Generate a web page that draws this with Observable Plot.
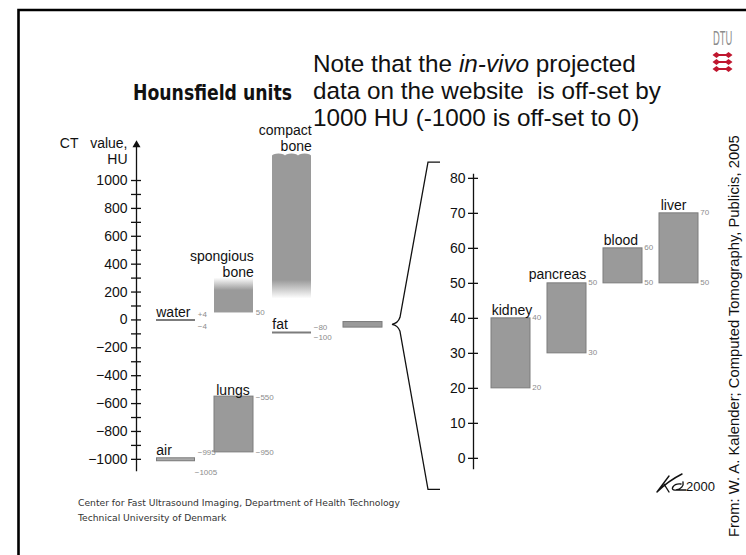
<!DOCTYPE html>
<html><head><meta charset="utf-8">
<script src="https://cdn.jsdelivr.net/npm/d3@7"></script>
<script src="https://cdn.jsdelivr.net/npm/@observablehq/plot@0.6"></script>
<style>
html,body{margin:0;padding:0;background:#fff;}
#slide{position:relative;width:746px;height:555px;overflow:hidden;background:#fff;font-family:"Liberation Sans",Arial,sans-serif;}
#slide > svg{position:absolute;left:0;top:0;}
</style></head><body><div id="slide"></div>
<script>
// ---------- data ----------
const leftColumns = ["air · water", "lungs · spongious bone", "fat · compact bone", "soft tissue"];
const tissues = ["air", "water", "lungs", "spongious bone", "fat", "compact bone"];
const tissueColumns = ["air · water", "air · water", "lungs · spongious bone", "lungs · spongious bone", "fat · compact bone", "fat · compact bone"];
const tissueLow  = [-1005, -4, -950, 50, -100, 150];
const tissueHigh = [-995, 4, -550, 300, -80, 1175];
const softTissueRange = [-55, -15];
const leftTicks = [-1000, -800, -600, -400, -200, 0, 200, 400, 600, 800, 1000];
const leftMinorTicks = [-1000, -900, -800, -700, -600, -500, -400, -300, -200, -100, 0, 100, 200, 300, 400, 500, 600, 700, 800, 900, 1000];
const leftAxisTitle = "CT\u00a0\u00a0\u00a0value,\nHU";

const organs = ["kidney", "pancreas", "blood", "liver"];
const organLow  = [20, 30, 50, 50];
const organHigh = [40, 50, 60, 70];
const rightTicks = [0, 10, 20, 30, 40, 50, 60, 70, 80];
const braceSpan = [-9, 84.5];

const titleText = "Hounsfield units";
const noteLines = ["Note that the ", "in-vivo", " projected", "data on the website  is off-set by", "1000 HU (-1000 is off-set to 0)"];
const footerLines = ["Center for Fast Ultrasound Imaging, Department of Health Technology", "Technical University of Denmark"];
const creditText = "From: W. A. Kalender; Computed Tomography, Publicis, 2005";
const signatureYear = "2000";

// ---------- tables ----------
const rowsL = tissues.map((t, i) => ({tissue: t, column: tissueColumns[i], low: tissueLow[i], high: tissueHigh[i]}));
const get = t => rowsL.filter(d => d.tissue === t);
const soft = [{column: "soft tissue", low: softTissueRange[0], high: softTissueRange[1]}];
const rowsR = organs.map((o, i) => ({organ: o, low: organLow[i], high: organHigh[i]}));
const getR = t => rowsR.filter(d => d.organ === t);

const fmt = d3.format("d"), fmtS = d3.format("+d");
const BAR = "#9a9a9a", EDGE = "#7c7c7c", VAL = "#8c8c8c", INK = "#111";
const lab = {fontSize: 14, fill: INK, lineAnchor: "bottom", lineHeight: 1.15};
const val = {fontSize: 8, fill: VAL, textAnchor: "start", lineAnchor: "middle"};

// ---------- left panel ----------
const LW = 420, hl = 19.75;
const left = Plot.plot({
  width: LW, height: 555,
  marginLeft: 136, marginRight: 0, marginTop: 146, marginBottom: 85,
  style: {background: "none", overflow: "visible", fontFamily: "'Liberation Sans', Arial, sans-serif"},
  x: {type: "band", domain: leftColumns, range: [155, 370], paddingInner: 0.325, paddingOuter: 0, axis: null},
  y: {domain: [-1080, 1244]},
  marks: [
    Plot.frame({anchor: "left", stroke: INK, strokeWidth: 1.3}),
    Plot.dot([0], {frameAnchor: "top-left", symbol: "triangle", r: 3, fill: INK, dy: -1.5}),
    Plot.tickY(leftMinorTicks, {y: d => d, dx: -5, insetRight: LW - 136 - 10, stroke: INK, strokeWidth: 1.3}),
    Plot.axisY(leftTicks, {tickSize: 0, tickPadding: 9, fontSize: 14, label: null, color: INK, tickFormat: fmt}),
    Plot.text([leftAxisTitle], {frameAnchor: "top-left", textAnchor: "end", lineAnchor: "top", dx: -9, dy: -9, fontSize: 14, lineHeight: 1.1, fill: INK}),
    // bars
    Plot.barY(get("lungs"), {x: "column", y1: "low", y2: "high", fill: BAR, stroke: EDGE}),
    Plot.barY(get("spongious bone"), {x: "column", y1: "low", y2: "high", fill: "url(#gSpong)"}),
    Plot.barY(get("compact bone"), {x: "column", y1: "low", y2: "high", fill: "url(#gCompact)"}),
    Plot.barY(soft, {x: "column", y1: "low", y2: "high", dx: 13, fill: BAR, stroke: EDGE}),
    Plot.tickY(get("air"), {x: "column", y: d => (d.low + d.high) / 2, stroke: EDGE, strokeWidth: 4}),
    Plot.tickY(get("air"), {x: "column", y: d => (d.low + d.high) / 2, stroke: "#aaa", strokeWidth: 2, inset: 1}),
    Plot.tickY(get("water"), {x: "column", y: d => (d.low + d.high) / 2, stroke: EDGE, strokeWidth: 2}),
    Plot.tickY(get("fat"), {x: "column", y: d => (d.low + d.high) / 2, stroke: EDGE, strokeWidth: 2}),
    // tissue names
    Plot.text(get("water"), {x: "column", y: "high", text: "tissue", ...lab, textAnchor: "start", dx: -hl, dy: -2}),
    Plot.text(get("air"), {x: "column", y: "high", text: "tissue", ...lab, textAnchor: "start", dx: -hl, dy: -4}),
    Plot.text(get("fat"), {x: "column", y: "high", text: "tissue", ...lab, textAnchor: "start", dx: -hl, dy: -2}),
    Plot.text(get("lungs"), {x: "column", y: "high", text: "tissue", ...lab, textAnchor: "start", dx: -hl + 2, dy: -2}),
    Plot.text(get("spongious bone"), {x: "column", y: "high", text: d => d.tissue.replace(" ", "\n"), ...lab, textAnchor: "end", dx: hl, dy: -1}),
    Plot.text(get("compact bone"), {x: "column", y: "high", text: d => d.tissue.replace(" ", "\n"), ...lab, textAnchor: "end", dx: hl, dy: -5}),
    // value labels
    Plot.text(get("water"), {x: "column", y: "high", text: d => fmtS(d.high), ...val, dx: hl + 2, dy: -5}),
    Plot.text(get("water"), {x: "column", y: "low", text: d => fmtS(d.low), ...val, dx: hl + 2, dy: 6}),
    Plot.text(get("spongious bone"), {x: "column", y: "low", text: d => fmt(d.low), ...val, dx: hl + 2, dy: -1}),
    Plot.text(get("fat"), {x: "column", y: "high", text: d => fmt(d.high), ...val, dx: hl + 2, dy: -4}),
    Plot.text(get("fat"), {x: "column", y: "low", text: d => fmt(d.low), ...val, dx: hl + 2, dy: 4}),
    Plot.text(get("lungs"), {x: "column", y: "high", text: d => fmt(d.high), ...val, dx: hl + 2, dy: 1}),
    Plot.text(get("lungs"), {x: "column", y: "low", text: d => fmt(d.low), ...val, dx: hl + 2}),
    Plot.text(get("air"), {x: "column", y: "high", text: d => fmt(d.high), ...val, dx: hl + 2, dy: -6}),
    Plot.text(get("air"), {x: "column", y: "low", text: d => fmt(d.low), ...val, dx: hl - 1, dy: 12})
  ]
});

// ---------- right panel ----------
const RW = 746, hr = 19.25;
const right = Plot.plot({
  width: RW, height: 555,
  marginLeft: 473, marginRight: 48, marginTop: 174, marginBottom: 87,
  style: {background: "none", overflow: "visible", fontFamily: "'Liberation Sans', Arial, sans-serif"},
  x: {type: "band", domain: organs, range: [491, 697.5], paddingInner: 0.3125, paddingOuter: 0, axis: null},
  y: {domain: [-2.9, 81.1]},
  marks: [
    Plot.frame({anchor: "left", stroke: INK, strokeWidth: 1.3}),
    Plot.tickY(rightTicks, {y: d => d, dx: -5, insetRight: RW - 473 - 48 - 10, stroke: INK, strokeWidth: 1.3}),
    Plot.axisY(rightTicks, {tickSize: 0, tickPadding: 8, fontSize: 14, label: null, color: INK, tickFormat: fmt}),
    Plot.barY(rowsR, {x: "organ", y1: "low", y2: "high", fill: BAR, stroke: EDGE}),
    Plot.text(getR("kidney"), {x: "organ", y: "high", text: "organ", ...lab, textAnchor: "start", dx: -hr, dy: -3}),
    Plot.text(getR("pancreas"), {x: "organ", y: "high", text: "organ", ...lab, textAnchor: "end", dx: hr, dy: -4}),
    Plot.text(getR("blood"), {x: "organ", y: "high", text: "organ", ...lab, textAnchor: "start", dx: -hr, dy: -3}),
    Plot.text(getR("liver"), {x: "organ", y: "high", text: "organ", ...lab, textAnchor: "start", dx: -hr + 1, dy: -3}),
    Plot.text(rowsR, {x: "organ", y: "high", text: d => fmt(d.high), ...val, dx: hr + 2, dy: -1}),
    Plot.text(rowsR, {x: "organ", y: "low", text: d => fmt(d.low), ...val, dx: hr + 2, dy: -1})
  ]
});

const slide = document.getElementById("slide");
slide.appendChild(left);
slide.appendChild(right);

// gradients for the bone bars
d3.select(left).insert("defs", ":first-child").html(
  `<linearGradient id="gCompact" x1="0" y1="0" x2="0" y2="1">
     <stop offset="0" stop-color="${BAR}"/><stop offset="0.87" stop-color="${BAR}"/><stop offset="1" stop-color="#fff"/>
   </linearGradient>
   <linearGradient id="gSpong" x1="0" y1="0" x2="0" y2="1">
     <stop offset="0" stop-color="#fff"/><stop offset="0.36" stop-color="${BAR}"/><stop offset="1" stop-color="${BAR}"/>
   </linearGradient>`);

const xL = left.scale("x"), yL = left.scale("y"), yR = right.scale("y");
// wavy top of compact bone (scale-derived)
{
  const cb = get("compact bone")[0];
  const x0 = xL.apply(cb.column), bw = xL.bandwidth, yt = yL.apply(cb.high);
  const g = d3.select(left).append("g");
  for (let k = 0; k < 3; k++) {
    g.append("ellipse").attr("cx", x0 + bw * (2 * k + 1) / 6).attr("cy", yt)
      .attr("rx", bw / 6).attr("ry", 2).attr("fill", BAR);
  }
}
// brace linking the soft tissue bar with the enlarged scale
{
  const tipX = xL.apply("soft tissue") + xL.bandwidth + 13 + 10;
  const tipY = yL.apply((softTissueRange[0] + softTissueRange[1]) / 2);
  const axisX = 473;
  const yt = yR.apply(braceSpan[1]), yb = yR.apply(braceSpan[0]);
  const p = d3.path();
  p.moveTo(axisX - 33, yt); p.lineTo(axisX - 45, yt);
  p.lineTo(tipX + 8, tipY - 7);
  p.quadraticCurveTo(tipX + 6, tipY - 1, tipX, tipY);
  p.quadraticCurveTo(tipX + 6, tipY + 1, tipX + 8, tipY + 7);
  p.lineTo(axisX - 45, yb); p.lineTo(axisX - 33, yb);
  d3.select(right).append("path").attr("d", p.toString()).attr("fill", "none")
    .attr("stroke", INK).attr("stroke-width", 1.3);
}

// ---------- slide decorations (text etc.) ----------
const ov = d3.select(slide).append("svg").attr("width", 746).attr("height", 555)
  .style("font-family", "'Liberation Sans', Arial, sans-serif");
ov.append("path").attr("d", "M18.5,555 V10 H746").attr("fill", "none").attr("stroke", "#000").attr("stroke-width", 2.6);

const title = ov.append("text").attr("font-family", "'DejaVu Sans', Verdana, sans-serif")
  .attr("font-weight", "bold").attr("font-size", 21).attr("fill", INK).text(titleText);
{
  const w = title.node().getComputedTextLength() || 200;
  title.attr("transform", `translate(133,100) scale(${159 / w},1)`);
}

const note = ov.append("text").attr("font-size", 24.3).attr("fill", INK).style("white-space", "pre");
const l1 = note.append("tspan").attr("x", 313).attr("y", 72);
l1.append("tspan").text(noteLines[0]);
l1.append("tspan").attr("font-style", "italic").text(noteLines[1]);
l1.append("tspan").text(noteLines[2]);
note.append("tspan").attr("x", 313).attr("y", 99).text(noteLines[3]);
note.append("tspan").attr("x", 313).attr("y", 126).text(noteLines[4]);

footerLines.forEach((t, i) => ov.append("text").attr("x", 78).attr("y", 506 + i * 15)
  .attr("font-family", "'DejaVu Sans', Verdana, sans-serif").attr("font-size", 9.2).attr("fill", "#333").text(t));

ov.append("text").attr("transform", "translate(739,537) rotate(-90)").attr("font-size", 14.8)
  .attr("fill", INK).text(creditText);

// DTU logo
ov.append("text").attr("transform", "translate(713,45) scale(0.47,1)").attr("font-size", 20)
  .attr("fill", "#8c8c8c").text("DTU");
[55, 62, 69].forEach(y => ov.append("path").attr("fill", "#c0172f").attr("d",
  `M712.5,${y} L716.5,${y - 3} L719,${y - 1.1} L726,${y - 1.1} L728.5,${y - 3} L732.5,${y} L728.5,${y + 3} L726,${y + 1.1} L719,${y + 1.1} L716.5,${y + 3} Z`));

// signature + year
ov.append("path").attr("fill", "none").attr("stroke", INK).attr("stroke-width", 1.4).attr("stroke-linecap", "round")
  .attr("d", "M657,492 L669,476 M657,492 C664,485 672,479 682,474 M664,484 L669,492 M681,484 C673,483 669,491 676,490 C681,489 684,486 683,482 M676,490 L686,490");
ov.append("text").attr("x", 686).attr("y", 491).attr("font-size", 13).attr("fill", INK).text(signatureYear);
</script></body></html>
